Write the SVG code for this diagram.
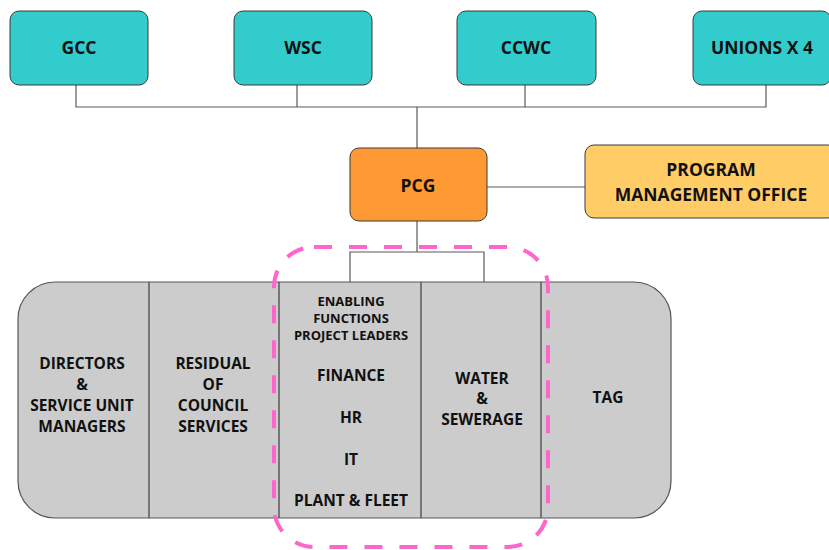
<svg xmlns="http://www.w3.org/2000/svg" width="829" height="550" viewBox="0 0 829 550">
  <style>
    .lbl { font-family: "Open Sans", "Noto Sans", "DejaVu Sans", sans-serif; font-weight: bold; fill: #111; text-anchor: middle; }
    .big { font-size: 17.5px; }
    .mid { font-size: 15.5px; }
    .sm { font-size: 13px; }
    .teal { fill: #33CCCC; stroke: #3a3a3a; stroke-width: 1; }
    .link { fill: none; stroke: #5a5a5a; stroke-width: 1.2; }
    .div { stroke: #5a5a5a; stroke-width: 1.5; }
  </style>

  <!-- connectors -->
  <g id="connectors">
    <polyline class="link" points="76,85 76,107 766,107 766,85"/>
    <line class="link" x1="297" y1="85" x2="297" y2="107"/>
    <line class="link" x1="525" y1="85" x2="525" y2="107"/>
    <line class="link" x1="417" y1="107" x2="417" y2="148"/>
    <line class="link" x1="487" y1="187" x2="585" y2="187"/>
    <line class="link" x1="417" y1="221" x2="417" y2="252"/>
    <polyline class="link" points="350,282 350,252 484,252 484,282"/>
  </g>

  <!-- top row -->
  <g id="gcc">
    <rect class="teal" x="10" y="11" width="138" height="74" rx="9"/>
    <text class="lbl big" x="79" y="54">GCC</text>
  </g>
  <g id="wsc">
    <rect class="teal" x="234" y="11" width="138" height="74" rx="9"/>
    <text class="lbl big" x="303" y="54">WSC</text>
  </g>
  <g id="ccwc">
    <rect class="teal" x="457" y="11" width="139" height="74" rx="9"/>
    <text class="lbl big" x="526" y="54">CCWC</text>
  </g>
  <g id="unions">
    <rect class="teal" x="693" y="11" width="138" height="74" rx="9"/>
    <text class="lbl big" x="762" y="54">UNIONS X 4</text>
  </g>

  <!-- steering group and office -->
  <g id="pcg">
    <rect x="350" y="148" width="137" height="73" rx="9" fill="#FF9933" stroke="#3a3a3a" stroke-width="1"/>
    <text class="lbl big" x="418" y="192">PCG</text>
  </g>
  <g id="pmo">
    <rect x="585" y="145" width="252" height="73" rx="9" fill="#FFCC66" stroke="#3a3a3a" stroke-width="1"/>
    <text class="lbl big" x="711" y="176">PROGRAM</text>
    <text class="lbl big" x="711" y="201">MANAGEMENT OFFICE</text>
  </g>

  <!-- service areas -->
  <g id="services">
    <rect x="18" y="282" width="653" height="236" rx="37" fill="#CCCCCC" stroke="#555" stroke-width="1.2"/>
    <line class="div" x1="149" y1="282" x2="149" y2="518"/>
    <line class="div" x1="279" y1="282" x2="279" y2="518"/>
    <line class="div" x1="421" y1="282" x2="421" y2="518"/>
    <line class="div" x1="541" y1="282" x2="541" y2="518"/>
  </g>
  <g id="directors">
    <text class="lbl mid" x="82" y="369">DIRECTORS</text>
    <text class="lbl mid" x="82" y="390">&amp;</text>
    <text class="lbl mid" x="82" y="411">SERVICE UNIT</text>
    <text class="lbl mid" x="82" y="432">MANAGERS</text>
  </g>
  <g id="residual">
    <text class="lbl mid" x="213" y="369">RESIDUAL</text>
    <text class="lbl mid" x="213" y="390">OF</text>
    <text class="lbl mid" x="213" y="411">COUNCIL</text>
    <text class="lbl mid" x="213" y="432">SERVICES</text>
  </g>
  <g id="enabling">
    <text class="lbl sm" x="351" y="306">ENABLING</text>
    <text class="lbl sm" x="351" y="323">FUNCTIONS</text>
    <text class="lbl sm" x="351" y="340">PROJECT LEADERS</text>
    <text class="lbl mid" x="351" y="381">FINANCE</text>
    <text class="lbl mid" x="351" y="423">HR</text>
    <text class="lbl mid" x="351" y="465">IT</text>
    <text class="lbl mid" x="351" y="506">PLANT &amp; FLEET</text>
  </g>
  <g id="water">
    <text class="lbl mid" x="482" y="384">WATER</text>
    <text class="lbl mid" x="482" y="404">&amp;</text>
    <text class="lbl mid" x="482" y="425">SEWERAGE</text>
  </g>
  <g id="tag">
    <text class="lbl mid" x="608" y="403">TAG</text>
  </g>

  <!-- programme scope outline -->
  <g id="scope">
    <rect x="274" y="247" width="274" height="300" rx="40" fill="none" stroke="#FF66CC" stroke-width="4" stroke-dasharray="18 17"/>
  </g>
</svg>
